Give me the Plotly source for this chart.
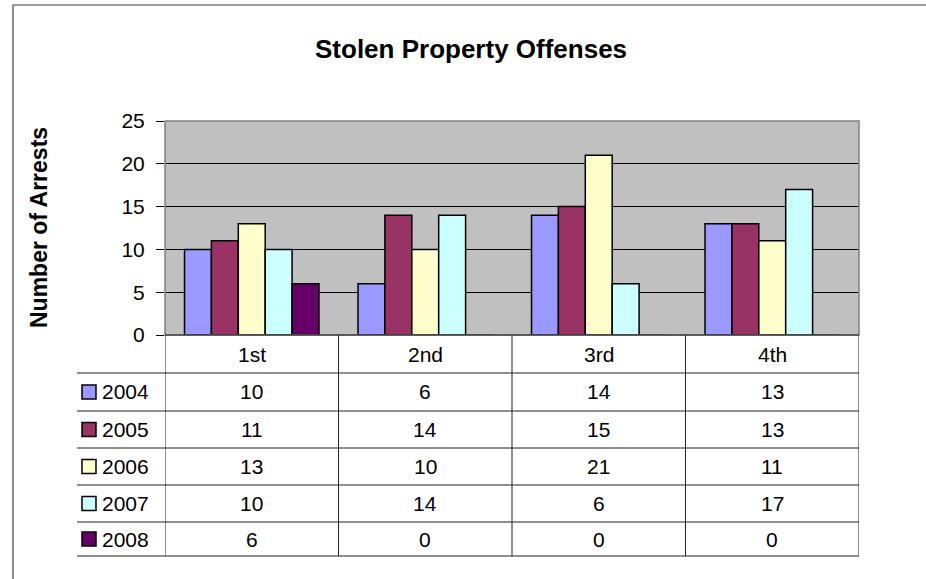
import plotly.graph_objects as go

categories = ["1st", "2nd", "3rd", "4th"]
series_names = ["2004", "2005", "2006", "2007", "2008"]
v2004 = [10, 6, 14, 13]
v2005 = [11, 14, 15, 13]
v2006 = [13, 10, 21, 11]
v2007 = [10, 14, 6, 17]
v2008 = [6, 0, 0, 0]
series_values = [v2004, v2005, v2006, v2007, v2008]
colors = ["#9999FF", "#993366", "#FFFFCC", "#CCFFFF", "#660066"]
y_ticks = [0, 5, 10, 15, 20, 25]

W, H = 926, 579
L, R, T, B = 165, 859, 121, 335  # plot area in pixels

def xp(px):
    return (px - L) / (R - L)

def yp(py):
    return (B - py) / (B - T)

FONT = "Liberation Sans, Arial, sans-serif"
TFS = 21  # table font size

fig = go.Figure()
for name, vals, col in zip(series_names, series_values, colors):
    fig.add_trace(go.Bar(
        x=categories, y=vals, name=name,
        marker=dict(color=col, line=dict(color="black", width=1.5)),
        showlegend=False,
    ))

shapes = []
annotations = []

# outer frame
shapes.append(dict(type="rect", xref="paper", yref="paper",
                   x0=xp(13), x1=xp(W + 20), y0=yp(5), y1=yp(H + 20),
                   line=dict(color="#404040", width=1.2), layer="below"))
# plot area border
shapes.append(dict(type="rect", xref="paper", yref="paper",
                   x0=0, x1=1, y0=0, y1=1,
                   line=dict(color="#808080", width=1.5), layer="above"))

# table geometry
row_bounds = [373, 411, 448, 485, 522, 556]
header_center = (B + row_bounds[0]) / 2
key_left = 77

for py in row_bounds:
    shapes.append(dict(type="line", xref="paper", yref="paper",
                       x0=xp(key_left), x1=1, y0=yp(py), y1=yp(py),
                       line=dict(color="#202020", width=1)))
shapes.append(dict(type="line", xref="paper", yref="paper",
                   x0=0, x1=1, y0=0, y1=0, line=dict(color="#202020", width=1.2)))
for i in range(len(categories) + 1):
    xv = i - 0.5
    shapes.append(dict(type="line", xref="x", yref="paper",
                       x0=xv, x1=xv, y0=0, y1=yp(row_bounds[-1]),
                       line=dict(color="#202020", width=1)))

for i, c in enumerate(categories):
    annotations.append(dict(x=i, xref="x", y=yp(header_center), yref="paper",
                            text=c, showarrow=False, xanchor="center", yanchor="middle",
                            font=dict(family=FONT, size=TFS, color="black")))

for r, (name, vals, col) in enumerate(zip(series_names, series_values, colors)):
    top = row_bounds[r]
    bot = row_bounds[r + 1]
    cy = (top + bot) / 2
    for i, v in enumerate(vals):
        annotations.append(dict(x=i, xref="x", y=yp(cy), yref="paper",
                                text=str(v), showarrow=False, xanchor="center", yanchor="middle",
                                font=dict(family=FONT, size=TFS, color="black")))
    shapes.append(dict(type="rect", xref="paper", yref="paper",
                       x0=xp(82), x1=xp(96), y0=yp(cy - 7), y1=yp(cy + 7),
                       fillcolor=col, line=dict(color="black", width=1.5)))
    annotations.append(dict(x=xp(100), xref="paper", y=yp(cy), yref="paper",
                            text=name, showarrow=False, xanchor="left", yanchor="middle",
                            font=dict(family=FONT, size=TFS, color="black")))

annotations.append(dict(x=xp(471), xref="paper", y=yp(49), yref="paper",
                        text="<b>Stolen Property Offenses</b>", showarrow=False,
                        xanchor="center", yanchor="middle",
                        font=dict(family=FONT, size=26, color="black")))
annotations.append(dict(x=xp(39), xref="paper", y=yp(228), yref="paper",
                        text="<b>Number of Arrests</b>", showarrow=False, textangle=-90,
                        xanchor="center", yanchor="middle",
                        font=dict(family=FONT, size=23, color="black")))

fig.update_layout(
    width=W, height=H,
    margin=dict(l=L, r=W - R, t=T, b=H - B, pad=0),
    paper_bgcolor="white", plot_bgcolor="#C0C0C0",
    barmode="group", bargap=0.225, bargroupgap=0,
    shapes=shapes, annotations=annotations,
    font=dict(family=FONT, size=16, color="black"),
    xaxis=dict(showticklabels=False, ticks="", showgrid=False, zeroline=False,
               range=[-0.5, 3.5], showline=False, fixedrange=True),
    yaxis=dict(range=[0, 25], tickvals=y_ticks, ticks="outside", ticklen=8,
               tickcolor="black", tickwidth=1, showgrid=True, gridcolor="black",
               gridwidth=1, zeroline=False, showline=False, fixedrange=True,
               tickfont=dict(family=FONT, size=21, color="black"), ticklabelstandoff=7),
)

fig.write_html("out.html", config={"displayModeBar": False},
               post_script="document.body.style.margin='0';document.body.style.overflow='hidden';")
